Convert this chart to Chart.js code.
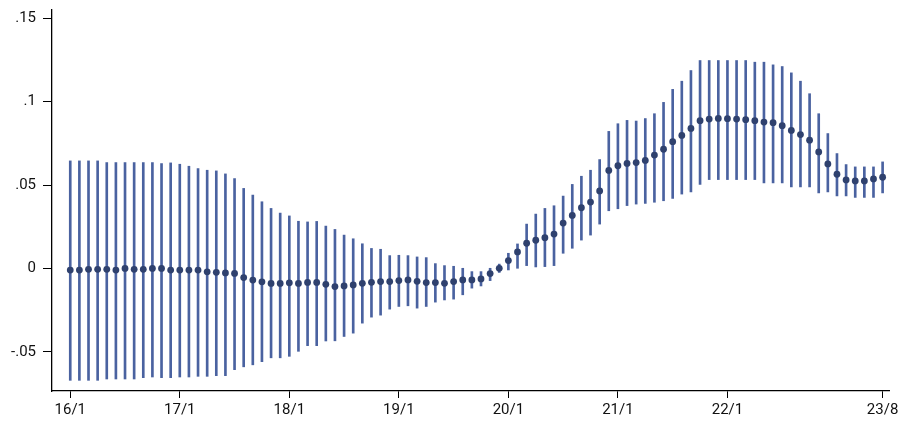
<!DOCTYPE html>
<html lang="en">
<head>
  <meta charset="UTF-8" />
  <title>Coefficient plot</title>
  <script src="https://cdn.jsdelivr.net/npm/chart.js"></script>
  <style>
    html, body { margin: 0; padding: 0; background: #fff; }
    canvas { display: block; }
  </style>
</head>
<body>
  <canvas id="coefChart" width="903" height="421"></canvas>

  <script>
    // point estimates, one per month starting 16/1
    const estimates = [
      -0.001, -0.001, -0.0005, -0.0005, -0.0005, -0.001, 0.0, -0.0005, -0.0005, 0.0,
      0.0, -0.001, -0.001, -0.001, -0.001, -0.002, -0.0023, -0.0027, -0.003, -0.0055,
      -0.007, -0.008, -0.009, -0.009, -0.0086, -0.009, -0.0084, -0.0084, -0.0095, -0.0109,
      -0.0105, -0.0099, -0.0089, -0.0083, -0.0079, -0.0079, -0.0073, -0.0069, -0.0077, -0.0085,
      -0.0085, -0.0089, -0.0079, -0.0069, -0.0069, -0.0063, -0.0031, 0.0001, 0.0047, 0.0099,
      0.0151, 0.0169, 0.0184, 0.0206, 0.0272, 0.0318, 0.0364, 0.0398, 0.0465, 0.0588,
      0.0616, 0.063, 0.0635, 0.0648, 0.068, 0.0715, 0.076, 0.0798, 0.084, 0.0886,
      0.0896, 0.09, 0.0898, 0.0896, 0.0892, 0.0886, 0.0878, 0.0874, 0.0856, 0.0828,
      0.0803, 0.0769, 0.0699, 0.0627, 0.0565, 0.0531, 0.0525, 0.0525, 0.0537, 0.0547
    ];

    const upperCI = [
      0.0645, 0.0645, 0.0645, 0.0645, 0.0635, 0.0635, 0.0635, 0.0635, 0.0635, 0.0635,
      0.0629, 0.0633, 0.0625, 0.0613, 0.0599, 0.0589, 0.0585, 0.0567, 0.0539, 0.048,
      0.044, 0.04, 0.036, 0.0332, 0.0315, 0.0283, 0.0279, 0.0282, 0.0254, 0.0234,
      0.02, 0.0178, 0.0148, 0.012, 0.0115, 0.0077, 0.0079, 0.0077, 0.0069, 0.0065,
      0.0029, 0.0017, 0.0013, 0.0001, -0.0019, -0.0019, 0.0001, 0.0026, 0.0091, 0.0147,
      0.0266, 0.0326, 0.036, 0.0376, 0.0434, 0.0504, 0.0553, 0.0589, 0.0653, 0.0822,
      0.0868, 0.0888, 0.0884, 0.0899, 0.0928, 0.0996, 0.1074, 0.1123, 0.1187, 0.1247,
      0.1247, 0.1247, 0.1247, 0.1247, 0.1247, 0.1237, 0.1237, 0.1221, 0.1211, 0.1173,
      0.1123, 0.1048, 0.0928, 0.0809, 0.0689, 0.0623, 0.0609, 0.0609, 0.0609, 0.0639
    ];

    const lowerCI = [
      -0.0671, -0.0671, -0.0671, -0.0671, -0.0663, -0.0663, -0.0663, -0.0663, -0.0655, -0.0651,
      -0.0655, -0.0655, -0.0651, -0.0651, -0.0647, -0.0647, -0.0643, -0.0643, -0.0607, -0.059,
      -0.0578, -0.0559, -0.0536, -0.0536, -0.0527, -0.0497, -0.0463, -0.0463, -0.0435, -0.0434,
      -0.0408, -0.0388, -0.0328, -0.0292, -0.028, -0.0244, -0.0228, -0.0224, -0.0238, -0.0228,
      -0.0202, -0.0189, -0.0184, -0.0158, -0.0118, -0.0105, -0.0073, -0.0024, -0.0009, 0.0001,
      0.0017, 0.0009, 0.0011, 0.0017, 0.0091, 0.0121, 0.017, 0.02, 0.0266, 0.0346,
      0.0358, 0.0377, 0.0386, 0.039, 0.0397, 0.0406, 0.042, 0.0446, 0.0459, 0.0504,
      0.0533, 0.0533, 0.0533, 0.0533, 0.0533, 0.0533, 0.0513, 0.0513, 0.0513, 0.0489,
      0.0489, 0.0489, 0.0453, 0.0459, 0.0435, 0.0435, 0.0426, 0.0426, 0.0426, 0.0453
    ];

    // x axis ticks (period index) and their labels
    const xTickPos = [0, 12, 24, 36, 48, 60, 72, 89];
    const xTickLabels = ['16/1', '17/1', '18/1', '19/1', '20/1', '21/1', '22/1', '23/8'];

    // y axis ticks and labels
    const yTickPos = [-0.05, 0, 0.05, 0.1, 0.15];
    const yTickLabels = ['-.05', '0', '.05', '.1', '.15'];

    const pointData = estimates.map((v, i) => ({ x: i, y: v }));
    const ciData = estimates.map((v, i) => ({ x: i, y: [lowerCI[i], upperCI[i]] }));

    const tickFont = { family: 'Roboto, "Liberation Sans", sans-serif', size: 15 };

    const ctx = document.getElementById('coefChart').getContext('2d');
    new Chart(ctx, {
      type: 'bar',
      data: {
        datasets: [
          {
            type: 'bar',
            label: 'CI',
            data: ciData,
            backgroundColor: '#4a62a0',
            borderWidth: 0,
            barThickness: 2,
            order: 2
          },
          {
            type: 'line',
            label: 'Estimate',
            data: pointData,
            showLine: false,
            pointRadius: 3.4,
            pointBorderWidth: 0,
            pointBackgroundColor: '#2f416e',
            order: 1
          }
        ]
      },
      options: {
        responsive: false,
        animation: false,
        layout: { padding: { top: 10, right: 14, left: 0, bottom: 0 } },
        plugins: {
          legend: { display: false },
          tooltip: { enabled: false }
        },
        scales: {
          x: {
            type: 'linear',
            min: -2,
            max: 89.7,
            offset: false,
            afterBuildTicks: axis => { axis.ticks = xTickPos.map(v => ({ value: v })); },
            afterFit: axis => { axis.height = 30; },
            grid: { offset: false, drawOnChartArea: false, tickLength: 7, tickColor: '#000', tickWidth: 1 },
            border: { display: true, color: '#000', width: 1.3 },
            ticks: {
              autoSkip: false,
              maxRotation: 0,
              padding: 3,
              color: '#111',
              font: tickFont,
              callback: (value, index) => xTickLabels[index]
            }
          },
          y: {
            min: -0.0735,
            max: 0.155,
            afterBuildTicks: axis => { axis.ticks = yTickPos.map(v => ({ value: v })); },
            afterFit: axis => {
              axis.width = 52;
              // labels sit inside the range, no extra room needed
              axis.paddingTop = 0;
              axis.paddingBottom = 0;
            },
            grid: { drawOnChartArea: false, tickLength: 9, tickColor: '#000', tickWidth: 1 },
            border: { display: true, color: '#000', width: 1.3 },
            ticks: {
              padding: 7,
              color: '#111',
              font: tickFont,
              callback: (value, index) => yTickLabels[index]
            }
          }
        }
      }
    });
  </script>
</body>
</html>
